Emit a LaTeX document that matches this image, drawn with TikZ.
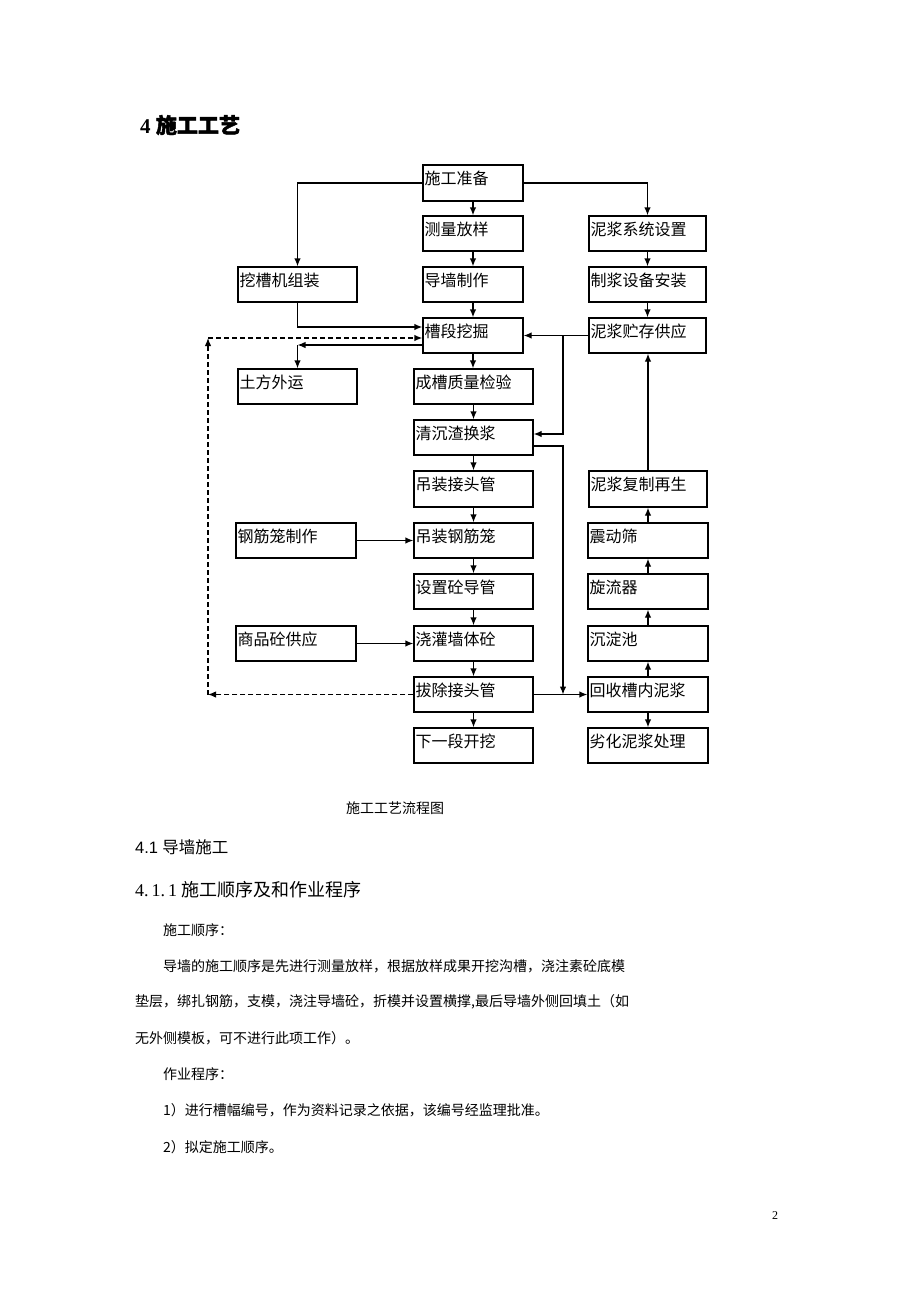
\documentclass[tikz,border=0pt]{standalone}
\usepackage{fontspec}
\setmainfont{Liberation Serif}
\newfontfamily\cjk{Noto Sans CJK SC}
\newfontfamily\cjkbold[FakeBold=2]{Noto Sans CJK SC}
\newfontfamily\lsans{Liberation Sans}
\usetikzlibrary{arrows.meta,fit,calc}
\tikzset{
  box/.style={draw, line width=1.3pt, inner sep=0pt},
  lbl/.style={font=\cjk\fontsize{16}{18}\selectfont, anchor=west, inner sep=0pt},
  arr/.style={-{Latex[length=8pt,width=6.5pt]}, line width=1.3pt},
  dsh/.style={dash pattern=on 5pt off 3pt},
  txt/.style={anchor=west, inner sep=0pt},
}
\newcommand\fbx[6]{%
  \path (#2,#3) coordinate (#1-nw) (#4,#5) coordinate (#1-se);
  \node[box, fit=(#1-nw)(#1-se)] (#1) {};
  \node[lbl] (#1-t) at ($(#1-nw)+(1.5,13)$) {#6};
}
\newcommand\bt{\cjk\fontsize{14}{16}\selectfont}
\begin{document}
\begin{tikzpicture}[x=1pt,y=-1pt]
\useasboundingbox[fill=white] (0,0) rectangle (920,1302);
% heading
\node[txt] (h4) at (140,125) {\fontsize{21}{24}\selectfont\bfseries 4 {\cjkbold 施工工艺}};
% boxes
\fbx{zb}{423}{165}{523}{201}{施工准备}
\fbx{cl}{423}{216}{523}{251}{测量放样}
\fbx{dq}{423}{267}{523}{302}{导墙制作}
\fbx{cd}{423}{318}{523}{353}{槽段挖掘}
\fbx{cc}{414}{369}{533}{404}{成槽质量检验}
\fbx{qc}{414}{420}{533}{455}{清沉渣换浆}
\fbx{dj}{414}{471}{533}{507}{吊装接头管}
\fbx{dg}{414}{523}{533}{558}{吊装钢筋笼}
\fbx{sz}{414}{574}{533}{609}{设置砼导管}
\fbx{jg}{414}{626}{533}{661}{浇灌墙体砼}
\fbx{bc}{414}{677}{533}{712}{拔除接头管}
\fbx{xy}{414}{728}{533}{763}{下一段开挖}
\fbx{wj}{238}{267}{357}{302}{挖槽机组装}
\fbx{tf}{238}{369}{357}{404}{土方外运}
\fbx{gj}{236}{523}{356}{558}{钢筋笼制作}
\fbx{sp}{236}{626}{356}{661}{商品砼供应}
\fbx{nj}{589}{216}{706}{251}{泥浆系统设置}
\fbx{zj}{589}{267}{706}{302}{制浆设备安装}
\fbx{zc}{589}{318}{706}{353}{泥浆贮存供应}
\fbx{fz}{589}{471}{707}{507}{泥浆复制再生}
\fbx{zd}{588}{523}{708}{558}{震动筛}
\fbx{xl}{588}{574}{708}{609}{旋流器}
\fbx{cdc}{588}{626}{708}{661}{沉淀池}
\fbx{hs}{588}{677}{708}{712}{回收槽内泥浆}
\fbx{lh}{588}{728}{708}{763}{劣化泥浆处理}
% center column
\draw[arr] (zb.south) -- (cl.north);
\draw[arr] (cl.south) -- (dq.north);
\draw[arr] (dq.south) -- (cd.north);
\draw[arr] (cd.south) -- (cd.south |- cc.north);
\draw[arr] (cc.south) -- (qc.north);
\draw[arr] (qc.south) -- (dj.north);
\draw[arr] (dj.south) -- (dg.north);
\draw[arr] (dg.south) -- (sz.north);
\draw[arr] (sz.south) -- (jg.north);
\draw[arr] (jg.south) -- (bc.north);
\draw[arr] (bc.south) -- (xy.north);
% top branches
\draw[arr] (zb.west) -| (wj.north);
\draw[arr] (zb.east) -| (nj.north);
\draw[arr] (nj.south) -- (zj.north);
\draw[arr] (zj.south) -- (zc.north);
\draw[arr] (wj.south) |- ([yshift=8.5pt]cd.west);
% earth out
\coordinate (t1) at (297.5,345);
\draw[arr] ([yshift=-9.5pt]cd.west) -- (t1);
\draw[arr] (t1) -- (tf.north);
% dashed loop
\coordinate (d1) at (208,694.5);
\coordinate (d2) at (208,338);
\draw[arr,dsh] (bc.west) -- (d1);
\draw[arr,dsh] (d1) -- (d2);
\draw[arr,dsh] (d2) -- (d2 -| cd.west);
% slurry
\draw[arr] (zc.west) -- (cd.east);
\coordinate (j1) at (563,335.5);
\draw[arr] (j1) |- ([yshift=3.5pt]qc.east);
\coordinate (j2) at (563,694.5);
\draw[arr] ([yshift=-8.5pt]qc.east) -| (j2);
\draw[arr] (bc.east) -- (hs.west);
\draw[arr] (hs.north) -- (cdc.south);
\draw[arr] (cdc.north) -- (xl.south);
\draw[arr] (xl.north) -- (zd.south);
\draw[arr] (zd.north) -- (fz.south);
\draw[arr] (fz.north) -- (fz.north |- zc.south);
\draw[arr] (hs.south) -- (lh.north);
% side inputs
\draw[arr] (gj.east) -- (gj.east -| dg.west);
\draw[arr] (sp.east) -- (sp.east -| jg.west);
% caption and text
\node[txt] (cap) at (346,808) {\bt 施工工艺流程图};
\node[txt] (s41) at (135,847) {\fontsize{16.5}{18}\selectfont{\lsans 4.1} {\cjk 导墙施工}};
\node[txt] (s411) at (135,890) {\fontsize{18}{20}\selectfont 4.\,1.\,1 {\cjk 施工顺序及和作业程序}};
\node[txt] (p1) at (163,930) {\bt 施工顺序：};
\node[txt] (p2) at (163,966) {\bt 导墙的施工顺序是先进行测量放样，根据放样成果开挖沟槽，浇注素砼底模};
\node[txt] (p3) at (135,1002) {\bt 垫层，绑扎钢筋，支模，浇注导墙砼，折模并设置横撑,最后导墙外侧回填土（如};
\node[txt] (p4) at (135,1038) {\bt 无外侧模板，可不进行此项工作）。};
\node[txt] (p5) at (163,1074) {\bt 作业程序：};
\node[txt] (p6) at (163,1110) {\bt 1）进行槽幅编号，作为资料记录之依据，该编号经监理批准。};
\node[txt] (p7) at (163,1147) {\bt 2）拟定施工顺序。};
\node[txt] (pg) at (772,1216) {\fontsize{12}{14}\selectfont 2};
\end{tikzpicture}
\end{document}
